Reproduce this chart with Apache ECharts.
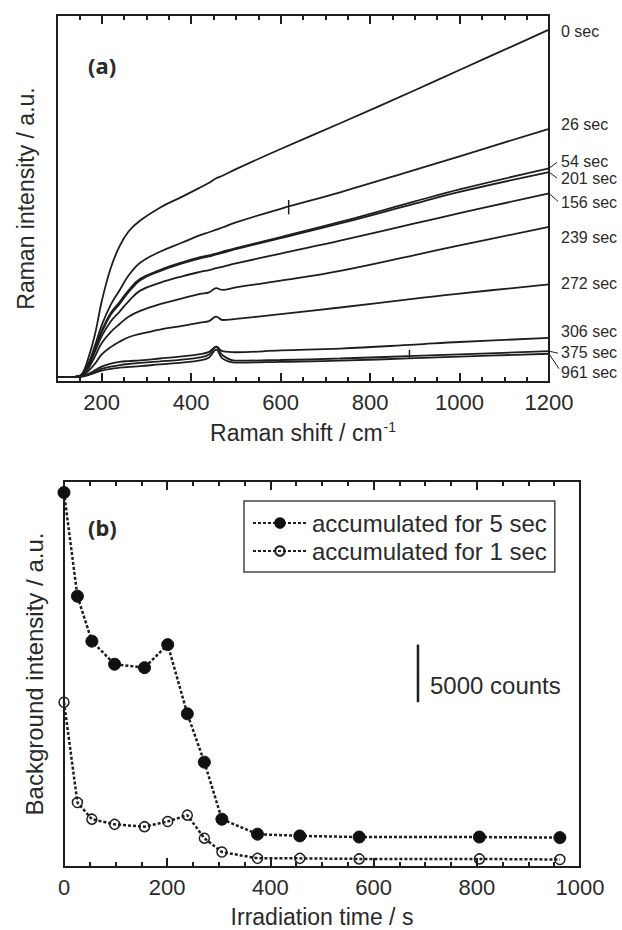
<!DOCTYPE html>
<html><head><meta charset="utf-8">
<script src="https://cdn.jsdelivr.net/npm/echarts@6/dist/echarts.min.js"></script>
<style>html,body{margin:0;padding:0;background:#fff}#c{width:622px;height:930px}</style>
</head><body><div id="c"></div>
<script>
// ---------- Panel (a): Raman spectra ----------
const ramanShift = [100,140,155,170,185,200,220,240,260,286,330,380,420,440,456,470,500,600,733,900,1000,1200];
const spec0   = [1.4,1.4,2.0,6.5,13,22,31,37,41,44,47.5,50.5,53,54.3,55.5,56.2,58,63.5,70.5,79.5,85,96];
const spec26  = [1.4,1.4,2.0,5.0,10,15.5,21,25,29,32.5,35.5,38,40,40.8,41.5,42.1,43.5,47.2,51.7,57.8,61.5,69];
const spec54  = [1.4,1.4,2.0,4.7,9.5,14,18.8,21.8,25,28.1,30.5,32.6,34,34.5,35,35.5,36.5,39.5,43.6,49.2,52.5,58.2];
const spec201 = [1.4,1.4,1.9,4.4,9.0,13.5,18.3,21.3,24.5,27.7,30.2,32.3,33.7,34.2,34.8,35.2,36.2,39.2,43.2,48.6,51.8,57.2];
const spec156 = [1.4,1.4,1.9,4.2,8.3,12.5,16.5,19.2,22,24.9,27,28.8,30,30.5,31,31.4,32.3,35,38.5,43.2,46,51.4];
const spec239 = [1.4,1.4,1.8,3.7,7,10.6,13.6,15.8,17.8,19.4,21.2,22.8,24,24.4,25.6,25.1,25.8,27.6,30.3,34.6,37.2,42.3];
const spec272 = [1.4,1.4,1.7,3.0,5.0,7.5,9.5,11,12.2,13.1,14.3,15.3,16.2,16.6,17.8,16.9,17.2,18.5,20.3,22.7,24.1,26.6];
const spec306 = [1.4,1.4,1.6,2.2,3.2,4.2,5.0,5.5,5.7,5.9,6.4,7.0,7.6,8.2,9.6,8.4,8.1,8.6,9.1,10.2,10.9,12.0];
const spec375 = [1.4,1.4,1.5,2.0,2.8,3.6,4.2,4.6,4.9,5.2,5.6,6.1,6.7,7.5,9.6,7.3,5.8,6.0,6.4,7.1,7.5,8.4];
const spec961 = [1.4,1.4,1.5,1.9,2.5,3.1,3.6,3.9,4.1,4.3,4.8,5.3,5.9,6.7,8.8,6.4,5.3,5.5,5.8,6.5,6.9,7.7];
const spikeOn26  = [[618,45.7],[618,49.6]];
const spikeOn375 = [[888,6.3],[888,8.8]];
const specNames = ['0 sec','26 sec','54 sec','201 sec','156 sec','239 sec','272 sec','306 sec','375 sec','961 sec'];
const specData  = [spec0,spec26,spec54,spec201,spec156,spec239,spec272,spec306,spec375,spec961];
const shiftMajorTicks = [200,400,600,800,1000,1200];
const shiftMinorTicks = [150,250,300,350,450,500,550,650,700,750,850,900,950,1050,1100,1150];

// ---------- Panel (b): background intensity ----------
const irrTime = [0,26,54,98,156,201,239,272,306,375,457,572,805,961];
const bg5sec  = [32500,23500,19600,17600,17300,19300,13300,9100,4150,2850,2700,2600,2600,2550];
const bg1sec  = [14300,5600,4150,3700,3500,3950,4500,2500,1300,750,750,700,700,650];
const scaleBar = [[686,14300],[686,19300]];

const INK = '#1e1e1e', TXT = '#2a2a2a';
const FONT = "Arial, Liberation Sans, Helvetica, sans-serif";
// label layout (pixel offsets only)
const labelDy = [2,-4,-7,6,9,11,-1,-6,1,19];
const leaderFor = {'54 sec':[8,-6], '201 sec':[8,6], '156 sec':[9,8], '375 sec':[9,2], '961 sec':[10,15]};

const chart = echarts.init(document.getElementById('c'), null, {renderer:'svg'});

function tickAxis(extra){
  return Object.assign({
    type:'value', splitLine:{show:false}, axisLine:{show:false},
    axisLabel:{show:false}
  }, extra);
}
const tickStyle = {color:INK, width:2};
const plain = v => String(v);

const series = [];
specNames.forEach((n,i)=>{
  series.push({
    name:n, type:'line', xAxisIndex:0, yAxisIndex:0,
    data: ramanShift.map((x,j)=>[x, specData[i][j]]),
    symbol:'none', smooth:0.4,
    lineStyle:{color:INK, width:1.8},
    endLabel:{show:true, formatter:n, distance:0, offset:[12, labelDy[i]],
      fontSize:16, color:TXT, fontFamily:FONT},
    silent:true
  });
});
[spikeOn26, spikeOn375].forEach(d=>series.push({type:'line', xAxisIndex:0, yAxisIndex:0, data:d,
  symbol:'none', lineStyle:{color:INK, width:1.5}, silent:true}));

series.push({
  name:'accumulated for 5 sec', type:'line', xAxisIndex:4, yAxisIndex:1,
  data: irrTime.map((t,i)=>[t,bg5sec[i]]),
  symbol:'circle', symbolSize:12,
  itemStyle:{color:'#111', borderColor:'#111', borderWidth:1},
  lineStyle:{color:INK, width:2.5, type:[3,2]}
});
series.push({
  name:'accumulated for 1 sec', type:'line', xAxisIndex:4, yAxisIndex:1,
  data: irrTime.map((t,i)=>[t,bg1sec[i]]),
  symbol:'circle', symbolSize:10,
  itemStyle:{color:'rgba(255,255,255,0)', borderColor:INK, borderWidth:1.5},
  lineStyle:{color:INK, width:2.5, type:[3,2]}
});
series.push({
  type:'line', xAxisIndex:4, yAxisIndex:1, data:scaleBar, symbol:'none',
  lineStyle:{color:INK, width:2.5}, silent:true
});

const option = {
  animation:false,
  backgroundColor:'#fff',
  textStyle:{fontFamily:FONT},
  grid:[
    {left:57, top:15, width:492, height:367, show:true, borderColor:INK, borderWidth:2},
    {left:64, top:481, width:516, height:386, show:true, borderColor:INK, borderWidth:2}
  ],
  xAxis:[
    tickAxis({gridIndex:0, min:100, max:1200, position:'bottom',
      axisTick:{inside:true, length:9, customValues:shiftMajorTicks, lineStyle:tickStyle},
      axisLabel:{show:true, customValues:shiftMajorTicks, formatter:plain, fontSize:22, color:TXT, margin:9, fontFamily:FONT},
      name:'Raman shift / cm{sup|-1}', nameLocation:'middle', nameGap:38,
      nameTextStyle:{fontSize:23, color:TXT, fontFamily:FONT,
        rich:{sup:{fontSize:14, color:TXT, fontFamily:FONT, verticalAlign:'top', padding:[0,0,12,1]}}}}),
    tickAxis({gridIndex:0, min:100, max:1200, position:'bottom',
      axisTick:{inside:true, length:5, customValues:shiftMinorTicks, lineStyle:tickStyle}}),
    tickAxis({gridIndex:0, min:100, max:1200, position:'top',
      axisTick:{inside:true, length:9, customValues:shiftMajorTicks, lineStyle:tickStyle}}),
    tickAxis({gridIndex:0, min:100, max:1200, position:'top',
      axisTick:{inside:true, length:5, customValues:shiftMinorTicks, lineStyle:tickStyle}}),
    tickAxis({gridIndex:1, min:0, max:1000, interval:200, position:'bottom',
      axisTick:{inside:true, length:9, lineStyle:tickStyle},
      minorTick:{show:true, splitNumber:4, length:5, lineStyle:tickStyle},
      axisLabel:{show:true, formatter:plain, fontSize:22, color:TXT, margin:9, fontFamily:FONT},
      name:'Irradiation time / s', nameLocation:'middle', nameGap:38,
      nameTextStyle:{fontSize:23, color:TXT, fontFamily:FONT}}),
    tickAxis({gridIndex:1, min:0, max:1000, interval:200, position:'top',
      axisTick:{inside:true, length:9, lineStyle:tickStyle},
      minorTick:{show:true, splitNumber:4, length:5, lineStyle:tickStyle}})
  ],
  yAxis:[
    {gridIndex:0, type:'value', min:0, max:100, axisLine:{show:false}, axisTick:{show:false},
      axisLabel:{show:false}, splitLine:{show:false},
      name:'Raman intensity / a.u.', nameLocation:'middle', nameGap:20,
      nameTextStyle:{fontSize:23, color:TXT, fontFamily:FONT}},
    {gridIndex:1, type:'value', min:0, max:33500, axisLine:{show:false}, axisTick:{show:false},
      axisLabel:{show:false}, splitLine:{show:false},
      name:'Background intensity / a.u.', nameLocation:'middle', nameGap:18,
      nameTextStyle:{fontSize:24, color:TXT, fontFamily:FONT}}
  ],
  legend:{
    data:['accumulated for 5 sec','accumulated for 1 sec'],
    left:244, top:501, orient:'vertical',
    itemWidth:54, itemHeight:12, itemGap:4,
    padding:[10,8,9,8], borderColor:'#444', borderWidth:1.5, borderRadius:0,
    backgroundColor:'#fff',
    textStyle:{fontSize:24, color:TXT, fontFamily:FONT}
  },
  series: series
};
chart.setOption(option);

// annotations positioned from the axes
const graphics = [
  {type:'text', left:88, top:54, style:{text:'(a)', font:"bold 22px Noto Sans, sans-serif", fill:TXT}},
  {type:'text', left:88, top:516, style:{text:'(b)', font:"bold 22px Noto Sans, sans-serif", fill:TXT}}
];
const barBottom = chart.convertToPixel({xAxisIndex:4, yAxisIndex:1}, scaleBar[0]);
graphics.push({type:'text', x:barBottom[0]+12, y:barBottom[1]-17,
  style:{text:'5000 counts', font:"24px "+FONT, fill:TXT, verticalAlign:'middle'}});
specNames.forEach((n,i)=>{
  if(!leaderFor[n]) return;
  const d = specData[i];
  const p = chart.convertToPixel({xAxisIndex:0, yAxisIndex:0}, [ramanShift[ramanShift.length-1], d[d.length-1]]);
  const o = leaderFor[n];
  graphics.push({type:'line', shape:{x1:p[0], y1:p[1], x2:p[0]+o[0], y2:p[1]+o[1]},
    style:{stroke:INK, lineWidth:1}});
});
chart.setOption({graphic:graphics});
</script></body></html>
